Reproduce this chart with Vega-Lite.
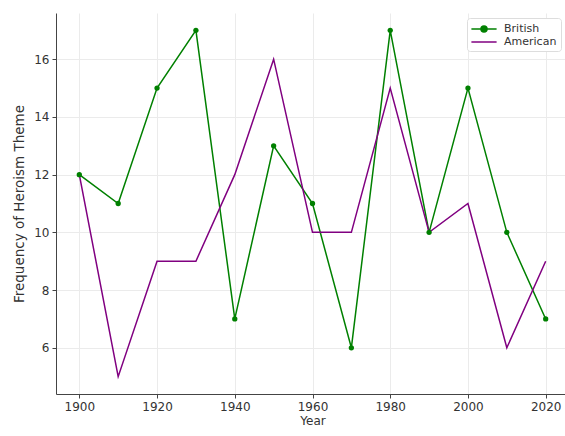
{
  "$schema": "https://vega.github.io/schema/vega-lite/v6.json",
  "width": 513,
  "height": 381,
  "autosize": "none",
  "padding": {"left": 56, "top": 13, "right": 0, "bottom": 42},
  "config": {
    "view": {"stroke": null},
    "font": "DejaVu Sans",
    "axis": {
      "domainColor": "#444",
      "domainWidth": 1,
      "tickColor": "#444",
      "tickSize": 4,
      "labelColor": "#333",
      "labelFontSize": 12,
      "titleColor": "#333",
      "titleFontWeight": "normal",
      "gridColor": "#ebebeb",
      "gridWidth": 1,
      "labelPadding": 3
    }
  },
  "data": {
    "values": [
      {"year": 1900, "series": "British", "value": 12},
      {"year": 1910, "series": "British", "value": 11},
      {"year": 1920, "series": "British", "value": 15},
      {"year": 1930, "series": "British", "value": 17},
      {"year": 1940, "series": "British", "value": 7},
      {"year": 1950, "series": "British", "value": 13},
      {"year": 1960, "series": "British", "value": 11},
      {"year": 1970, "series": "British", "value": 6},
      {"year": 1980, "series": "British", "value": 17},
      {"year": 1990, "series": "British", "value": 10},
      {"year": 2000, "series": "British", "value": 15},
      {"year": 2010, "series": "British", "value": 10},
      {"year": 2020, "series": "British", "value": 7},
      {"year": 1900, "series": "American", "value": 12},
      {"year": 1910, "series": "American", "value": 5},
      {"year": 1920, "series": "American", "value": 9},
      {"year": 1930, "series": "American", "value": 9},
      {"year": 1940, "series": "American", "value": 12},
      {"year": 1950, "series": "American", "value": 16},
      {"year": 1960, "series": "American", "value": 10},
      {"year": 1970, "series": "American", "value": 10},
      {"year": 1980, "series": "American", "value": 15},
      {"year": 1990, "series": "American", "value": 10},
      {"year": 2000, "series": "American", "value": 11},
      {"year": 2010, "series": "American", "value": 6},
      {"year": 2020, "series": "American", "value": 9}
    ]
  },
  "layer": [
    {
      "mark": {"type": "line", "strokeWidth": 1.5},
      "encoding": {
        "x": {
          "field": "year", "type": "quantitative", "title": "Year",
          "scale": {"domain": [1894, 2026], "nice": false, "zero": false},
          "axis": {"values": [1900, 1920, 1940, 1960, 1980, 2000, 2020], "format": "d", "titleFontSize": 12, "titlePadding": 3}
        },
        "y": {
          "field": "value", "type": "quantitative", "title": "Frequency of Heroism Theme",
          "scale": {"domain": [4.4, 17.6], "nice": false, "zero": false},
          "axis": {"values": [6, 8, 10, 12, 14, 16], "titleFontSize": 13.5, "titlePadding": 7}
        },
        "color": {
          "field": "series", "type": "nominal",
          "scale": {"domain": ["British", "American"], "range": ["green", "purple"]},
          "legend": {
            "title": null,
            "orient": "none",
            "legendX": 411,
            "legendY": 5,
            "fillColor": "white",
            "strokeColor": "#dddddd",
            "cornerRadius": 3,
            "padding": 4,
            "symbolSize": 144,
            "symbolOffset": 6,
            "labelOffset": 13,
            "labelFontSize": 11,
            "labelColor": "#333",
            "rowPadding": -3,
            "encode": {
              "symbols": {
                "update": {
                  "shape": [
                    {"test": "datum.value === 'British'", "value": "M-2.1,0H2.1M-0.5,0A0.5,0.5 0 1,0 0.5,0A0.5,0.5 0 1,0 -0.5,0Z"},
                    {"value": "M-2.1,0H2.1"}
                  ],
                  "fill": [
                    {"test": "datum.value === 'British'", "value": "green"},
                    {"value": "transparent"}
                  ],
                  "stroke": {"scale": "color", "field": "value"},
                  "strokeWidth": {"value": 1.5}
                }
              }
            }
          }
        }
      }
    },
    {
      "transform": [{"filter": "datum.series === 'British'"}],
      "mark": {"type": "circle", "size": 28, "opacity": 1},
      "encoding": {
        "x": {"field": "year", "type": "quantitative"},
        "y": {"field": "value", "type": "quantitative"},
        "color": {"field": "series", "type": "nominal", "legend": null}
      }
    }
  ]
}
